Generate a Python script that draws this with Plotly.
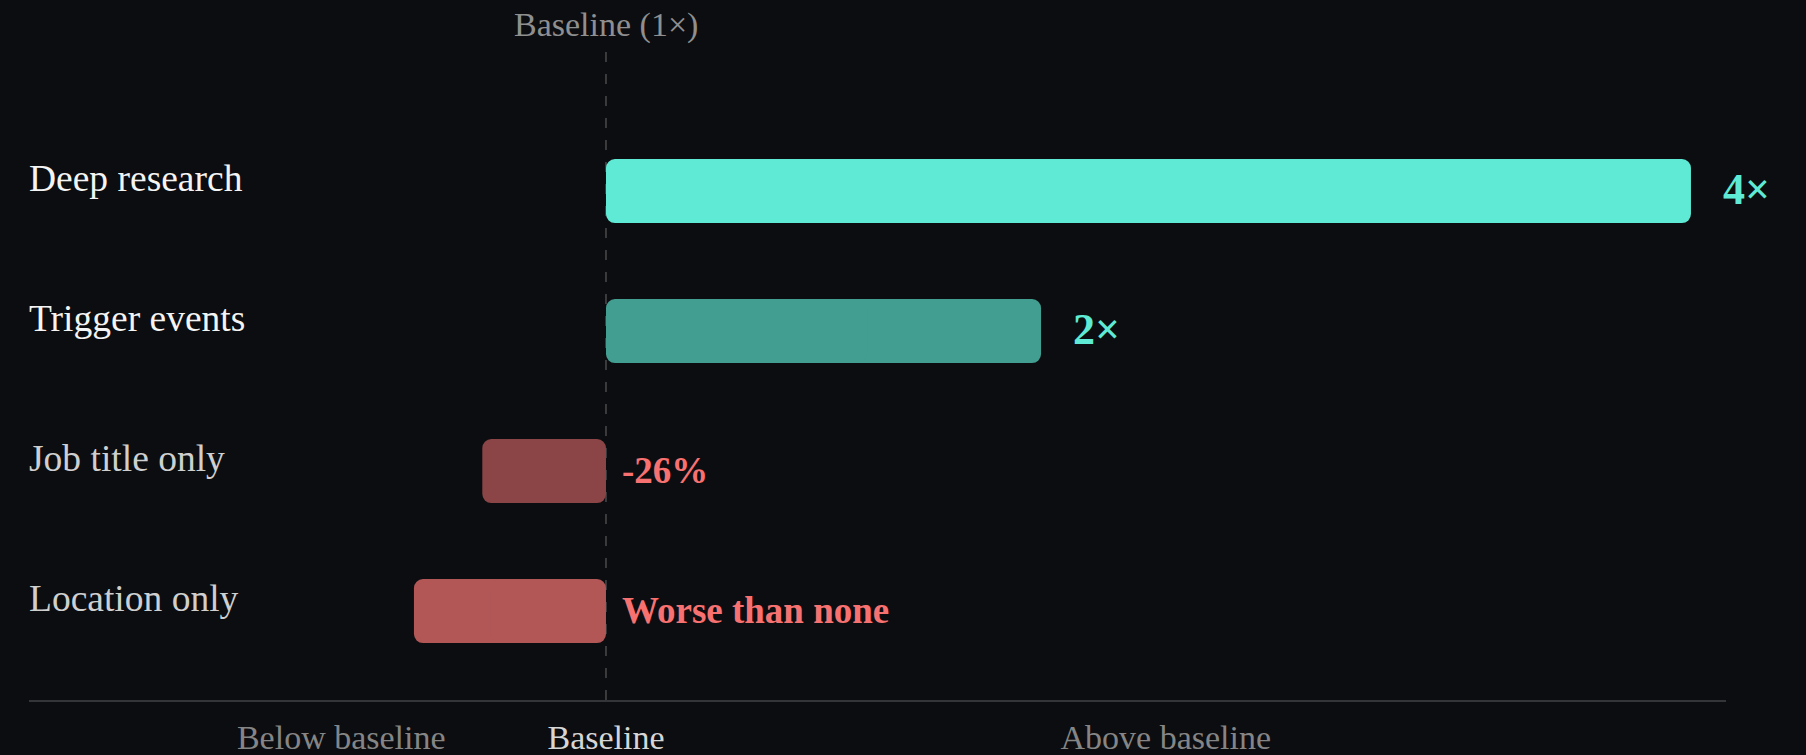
import plotly.graph_objects as go

categories = ["Deep research", "Trigger events", "Job title only", "Location only"]
bar_lengths = [100, 40.1, -11.4, -17.7]          # relative bar length (baseline = 0)
value_labels = ["4×", "2×", "-26%", "Worse than none"]
bar_colors = ["#5fead6", "#429e91", "#8b4546", "#b25656"]
label_colors = ["#f4f4f4", "#f4f4f4", "#cfcfcf", "#cfcfcf"]
value_colors = ["#5eead4", "#5eead4", "#f87171", "#f87171"]
tick_vals = [-24.4, 0, 51.6]
tick_texts = ["Below baseline", "Baseline", "Above baseline"]
tick_colors = ["#858585", "#d6d6d6", "#858585"]

FONT = "Liberation Serif, Times New Roman, serif"
BG = "#0c0d10"
X_RANGE = [-53.18, 103.23]
PLOT_H = 648.0
PX_PER_CAT = 140.0
Y_TOP = -0.99 - 0.5 / PX_PER_CAT
Y_RANGE = [Y_TOP + PLOT_H / PX_PER_CAT, Y_TOP]
BAR_W = 64.0 / PX_PER_CAT
RADIUS = 9
SHIFT = 1000.0  # helper axes shifted so the baseline end of each bar gets rounded too

fig = go.Figure()

# tip half of every bar (main axis) -> rounded outer end
fig.add_trace(go.Bar(
    y=categories, x=[0.6 * v for v in bar_lengths], base=[0.4 * v for v in bar_lengths],
    orientation="h", width=BAR_W,
    marker=dict(color=bar_colors, line=dict(width=0), cornerradius=RADIUS),
    hoverinfo="skip", showlegend=False))

# baseline half: positive bars on an axis shifted to negative coordinates, negative bars on a positive one
for axis, offset, keep in (("x2", -SHIFT, lambda v: v >= 0), ("x3", SHIFT, lambda v: v < 0)):
    cats = [c for c, v in zip(categories, bar_lengths) if keep(v)]
    vals = [v for v in bar_lengths if keep(v)]
    cols = [col for col, v in zip(bar_colors, bar_lengths) if keep(v)]
    fig.add_trace(go.Bar(
        y=cats, x=[-0.6 * v for v in vals], base=[0.6 * v + offset for v in vals],
        orientation="h", width=BAR_W, xaxis=axis, yaxis="y",
        marker=dict(color=cols, line=dict(width=0), cornerradius=RADIUS),
        hoverinfo="skip", showlegend=False))

annotations = []
for cat, lab, col in zip(categories, categories, label_colors):
    annotations.append(dict(x=0, xref="paper", xanchor="left", xshift=-2, y=cat, yref="y",
                            yanchor="middle", yshift=13, text=lab, showarrow=False,
                            font=dict(family=FONT, size=37.5, color=col)))
for cat, v, lab, col in zip(categories, bar_lengths, value_labels, value_colors):
    if v >= 0:
        annotations.append(dict(x=v, xref="x", xanchor="left", xshift=30, y=cat, yref="y",
                                yanchor="middle", yshift=2, text="<b>%s</b>" % lab, showarrow=False,
                                font=dict(family=FONT, size=44, color=col)))
    else:
        annotations.append(dict(x=0, xref="x", xanchor="left", xshift=14, y=cat, yref="y",
                                yanchor="middle", yshift=1, text="<b>%s</b>" % lab, showarrow=False,
                                font=dict(family=FONT, size=37, color=col)))
annotations.append(dict(x=0, xref="x", xanchor="center", y=1, yref="paper", yanchor="middle",
                        yshift=27, text="Baseline (1×)", showarrow=False,
                        font=dict(family=FONT, size=34, color="#8f8f8f")))

shapes = [dict(type="line", xref="x", yref="paper", x0=0, x1=0, y0=0, y1=1,
               line=dict(color="#6a6a6a", width=1, dash="10px,12px"), layer="below")]

helper_axis = dict(showgrid=False, zeroline=False, showline=False, showticklabels=False,
                   ticks="", overlaying="x", automargin=False, fixedrange=True, visible=False)

fig.update_layout(
    width=1806, height=755,
    margin=dict(l=29, r=80, t=52, b=55),
    paper_bgcolor=BG, plot_bgcolor=BG,
    barmode="overlay",
    showlegend=False,
    annotations=annotations,
    shapes=shapes,
    xaxis=dict(range=X_RANGE, showgrid=False, zeroline=False, automargin=False,
               showline=True, linecolor="#333539", linewidth=2,
               tickmode="array", tickvals=tick_vals,
               ticktext=['<span style="color:%s">%s</span>' % (c, t) for t, c in zip(tick_texts, tick_colors)],
               ticks="outside", ticklen=6, tickcolor=BG,
               tickfont=dict(family=FONT, size=34, color="#858585"), fixedrange=True),
    xaxis2=dict(range=[X_RANGE[0] - SHIFT, X_RANGE[1] - SHIFT], **helper_axis),
    xaxis3=dict(range=[X_RANGE[0] + SHIFT, X_RANGE[1] + SHIFT], **helper_axis),
    yaxis=dict(type="category", categoryorder="array", categoryarray=categories,
               range=Y_RANGE, autorange=False, showgrid=False, zeroline=False, automargin=False,
               showticklabels=False, showline=False, fixedrange=True),
)

fig.write_html("out.html", config={"displayModeBar": False})
